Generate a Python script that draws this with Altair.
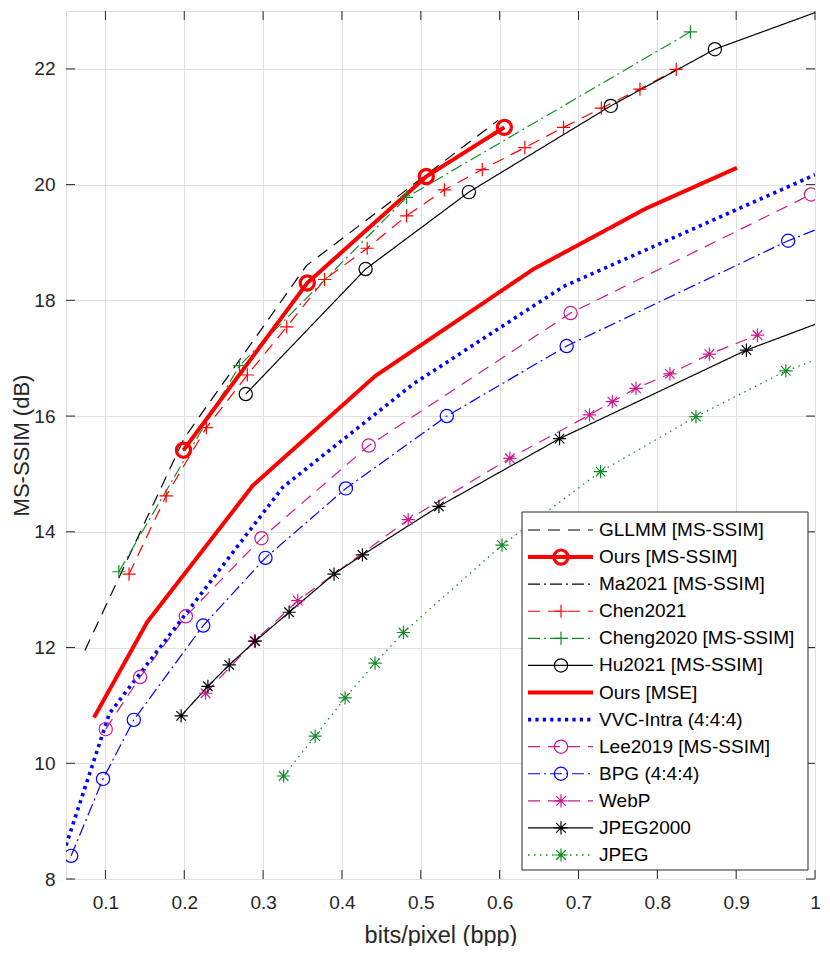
import altair as alt
import pandas as pd

FONT = "Liberation Sans"
AX = "#262626"

SERIES = ["GLLMM [MS-SSIM]", "Ours [MS-SSIM]", "Ma2021 [MS-SSIM]", "Chen2021",
          "Cheng2020 [MS-SSIM]", "Hu2021 [MS-SSIM]", "Ours [MSE]", "VVC-Intra (4:4:4)",
          "Lee2019 [MS-SSIM]", "BPG (4:4:4)", "WebP", "JPEG2000", "JPEG"]

GLLMM_X = [0.074, 0.200, 0.355, 0.598]
GLLMM_Y = [11.95, 15.62, 18.60, 21.11]
OURS_SSIM_X = [0.199, 0.356, 0.507, 0.606]
OURS_SSIM_Y = [15.41, 18.30, 20.14, 20.99]
MA_X = [0.199, 0.356, 0.507, 0.606]
MA_Y = [15.40, 18.28, 20.12, 20.97]
CHEN_X = [0.130, 0.177, 0.228, 0.280, 0.330, 0.378, 0.432, 0.482, 0.530, 0.578,
          0.632, 0.681, 0.729, 0.778, 0.824]
CHEN_Y = [13.27, 14.62, 15.80, 16.71, 17.54, 18.36, 18.90, 19.46, 19.91, 20.26,
          20.64, 20.99, 21.32, 21.65, 21.99]
CHENG_X = [0.117, 0.270, 0.482, 0.842]
CHENG_Y = [13.31, 16.87, 19.78, 22.64]
HU_X = [0.278, 0.430, 0.561, 0.741, 0.873, 1.100]
HU_Y = [16.38, 18.54, 19.87, 21.36, 22.34, 23.47]
OURS_MSE_X = [0.0855, 0.153, 0.287, 0.442, 0.643, 0.786, 0.901]
OURS_MSE_Y = [10.79, 12.44, 14.80, 16.69, 18.54, 19.59, 20.29]
VVC_X = [0.050, 0.105, 0.325, 0.490, 0.681, 1.000]
VVC_Y = [8.58, 10.86, 14.77, 16.55, 18.24, 20.17]
LEE_X = [0.1004, 0.144, 0.202, 0.298, 0.434, 0.690, 0.995]
LEE_Y = [10.59, 11.49, 12.54, 13.89, 15.49, 17.78, 19.83]
BPG_X = [0.0565, 0.097, 0.136, 0.224, 0.303, 0.405, 0.533, 0.685, 0.966, 1.200]
BPG_Y = [8.40, 9.73, 10.75, 12.38, 13.55, 14.75, 16.00, 17.21, 19.03, 20.30]
WEBP_X = [0.227, 0.289, 0.344, 0.484, 0.613, 0.714, 0.743, 0.773, 0.816, 0.866, 0.927]
WEBP_Y = [11.21, 12.11, 12.81, 14.21, 15.27, 16.02, 16.25, 16.48, 16.73, 17.07, 17.40]
J2K_X = [0.196, 0.230, 0.257, 0.290, 0.333, 0.390, 0.426, 0.523, 0.676, 0.913, 1.150]
J2K_Y = [10.82, 11.33, 11.70, 12.11, 12.61, 13.27, 13.60, 14.44, 15.61, 17.14, 18.35]
JPEG_X = [0.326, 0.366, 0.404, 0.442, 0.478, 0.603, 0.728, 0.849, 0.963, 1.100]
JPEG_Y = [9.78, 10.47, 11.13, 11.73, 12.26, 13.77, 15.04, 15.99, 16.78, 17.48]

DATA = [(GLLMM_X, GLLMM_Y), (OURS_SSIM_X, OURS_SSIM_Y), (MA_X, MA_Y), (CHEN_X, CHEN_Y),
        (CHENG_X, CHENG_Y), (HU_X, HU_Y), (OURS_MSE_X, OURS_MSE_Y), (VVC_X, VVC_Y),
        (LEE_X, LEE_Y), (BPG_X, BPG_Y), (WEBP_X, WEBP_Y), (J2K_X, J2K_Y), (JPEG_X, JPEG_Y)]

XTICKS = [0.1, 0.2, 0.3, 0.4, 0.5, 0.6, 0.7, 0.8, 0.9, 1.0]
YTICKS = [8, 10, 12, 14, 16, 18, 20, 22]

# ---- styles ----
RED, GREEN, BLUE, MAG, BLK = "#ff0000", "#148c28", "#0000ff", "#cc1a8c", "#000000"
COLORS = [BLK, RED, BLK, RED, GREEN, BLK, RED, BLUE, MAG, BLUE, MAG, BLK, GREEN]
DASH = [12, 8]
DASHDOT = [12, 4, 2, 4]
SOLID = [1, 0]
DASHES = [DASH, SOLID, DASHDOT, DASH, DASHDOT, SOLID, SOLID, [3.2, 4.2], DASH, DASHDOT,
          DASH, SOLID, [1.5, 4.5]]
WIDTHS = [1.2, 4, 1.2, 1.2, 1.2, 1.2, 4, 3.6, 1.2, 1.2, 1.2, 1.2, 1.3]
CIRCLE = "circle"
PLUS = "M-1,0L1,0M0,-1L0,1"
STAR = "M-1,0L1,0M0,-1L0,1M-0.72,-0.72L0.72,0.72M-0.72,0.72L0.72,-0.72"
MARKERS = {"Ours [MS-SSIM]": CIRCLE, "Chen2021": PLUS, "Cheng2020 [MS-SSIM]": PLUS,
           "Hu2021 [MS-SSIM]": CIRCLE, "Lee2019 [MS-SSIM]": CIRCLE, "BPG (4:4:4)": CIRCLE,
           "WebP": STAR, "JPEG2000": STAR, "JPEG": STAR}

rows = []
for i, (name, (xs, ys)) in enumerate(zip(SERIES, DATA)):
    for xv, yv in zip(xs, ys):
        rows.append({"series": name, "x": xv, "y": yv, "w": WIDTHS[i]})
df = pd.DataFrame(rows)

W, H = 749, 868
xscale = alt.Scale(domain=[0.05, 1.0], nice=False, zero=False)
yscale = alt.Scale(domain=[8, 23], nice=False, zero=False)
color = alt.Color("series:N", scale=alt.Scale(domain=SERIES, range=COLORS), legend=None)
dash = alt.StrokeDash("series:N", scale=alt.Scale(domain=SERIES, range=DASHES), legend=None)
mk_names = list(MARKERS.keys())
shape = alt.Shape("series:N", scale=alt.Scale(domain=mk_names, range=[MARKERS[k] for k in mk_names]),
                  legend=None)

xaxis = alt.Axis(values=XTICKS, labelExpr="datum.value == 1 ? '1' : format(datum.value, '.1f')",
                 title="bits/pixel (bpp)", grid=True, gridColor="#e0e0e0", gridWidth=1,
                 tickSize=0, domain=False, labelFontSize=19, labelPadding=14, labelFlush=False,
                 labelColor=AX, titleColor=AX, titleFontSize=23.5, titleFontWeight="normal",
                 titleY=56, titleBaseline="middle", labelFont=FONT, titleFont=FONT)
yaxis = alt.Axis(values=YTICKS, format="d", title="MS-SSIM (dB)", grid=True, gridColor="#e0e0e0",
                 gridWidth=1, tickSize=0, domain=False, labelFontSize=19, labelPadding=11,
                 labelFlush=False, labelColor=AX, titleColor=AX, titleFontSize=22,
                 titleFontWeight="normal", titleX=-45, titleY=H / 2, titleAngle=-90,
                 titleBaseline="middle", labelFont=FONT, titleFont=FONT)
X = alt.X("x:Q", scale=xscale, axis=xaxis)
Y = alt.Y("y:Q", scale=yscale, axis=yaxis)

# line layers, one per line width (thin first, thick last)
line_layers = []
for wv in sorted(set(WIDTHS), key=lambda v: (v > 3, v)):
    sub = df[df["w"] == wv]
    line_layers.append(alt.Chart(sub).mark_line(clip=True, strokeWidth=wv, strokeCap="butt",
                                                strokeJoin="round").encode(
        x=X, y=Y, color=color, strokeDash=dash, detail="series:N", order="x:Q"))

pts_df = df[df["series"].isin(mk_names) & (df["series"] != "Ours [MS-SSIM]")]
points = alt.Chart(pts_df).mark_point(clip=True, filled=False, size=175, strokeWidth=1.2, opacity=1).encode(
    x=X, y=Y, color=color, shape=shape)
ours_df = df[df["series"] == "Ours [MS-SSIM]"]
ours_pts = alt.Chart(ours_df).mark_point(clip=True, filled=False, size=200, strokeWidth=3.2, opacity=1).encode(
    x=X, y=Y, color=color, shape=shape)

# inward ticks
xt = pd.DataFrame({"x": XTICKS})
yt = pd.DataFrame({"y": YTICKS})
TL = 9
xt_bot = alt.Chart(xt).mark_rule(color=AX, strokeWidth=1).encode(
    x=X, y=alt.value(H), y2=alt.value(H - TL))
xt_top = alt.Chart(xt).mark_rule(color=AX, strokeWidth=1).encode(
    x=X, y=alt.value(0), y2=alt.value(TL))
yt_left = alt.Chart(yt).mark_rule(color=AX, strokeWidth=1).encode(
    y=Y, x=alt.value(0), x2=alt.value(TL))
yt_right = alt.Chart(yt).mark_rule(color=AX, strokeWidth=1).encode(
    y=Y, x=alt.value(W), x2=alt.value(W - TL))

main = alt.layer(*line_layers, points, ours_pts, xt_bot, xt_top, yt_left, yt_right)

# legend
leg = pd.DataFrame({"series": SERIES, "row": list(range(len(SERIES))), "w": WIDTHS})
rowscale = alt.Scale(domain=[0, 12], range=[519, 844])
ly = alt.Y("row:Q", scale=rowscale, axis=None)
box = alt.Chart(pd.DataFrame({"a": [0]})).mark_rect(fill="white", stroke=AX, strokeWidth=1).encode(
    x=alt.value(456), x2=alt.value(742), y=alt.value(501), y2=alt.value(859))
leg_line_layers = []
for wv in sorted(set(WIDTHS)):
    leg_line_layers.append(
        alt.Chart(leg[leg["w"] == wv]).mark_rule(strokeCap="butt", strokeWidth=wv).encode(
            x=alt.value(462), x2=alt.value(527), y=ly, color=color, strokeDash=dash))
leg_mk = alt.Chart(leg[leg["series"].isin(mk_names) & (leg["series"] != "Ours [MS-SSIM]")]).mark_point(
    filled=False, size=175, strokeWidth=1.2, opacity=1).encode(
    x=alt.value(495), y=ly, color=color, shape=shape)
leg_ours = alt.Chart(leg[leg["series"] == "Ours [MS-SSIM]"]).mark_point(
    filled=False, size=200, strokeWidth=3.2, opacity=1).encode(
    x=alt.value(495), y=ly, color=color, shape=shape)
leg_txt = alt.Chart(leg).mark_text(align="left", baseline="middle", font=FONT, fontSize=19,
                                   color="#000000").encode(
    x=alt.value(533), y=ly, text="series:N")
legend = alt.layer(box, *leg_line_layers, leg_mk, leg_ours, leg_txt)

chart = alt.layer(main, legend).resolve_scale(y="independent").properties(
    width=W, height=H,
    autosize=alt.AutoSizeParams(type="none"),
    padding={"left": 58, "top": 3, "right": 7, "bottom": 67},
).configure_view(stroke=AX, strokeWidth=1.2).configure(background="white")

chart.save("out.html", embed_options={"renderer": "svg", "actions": False})
